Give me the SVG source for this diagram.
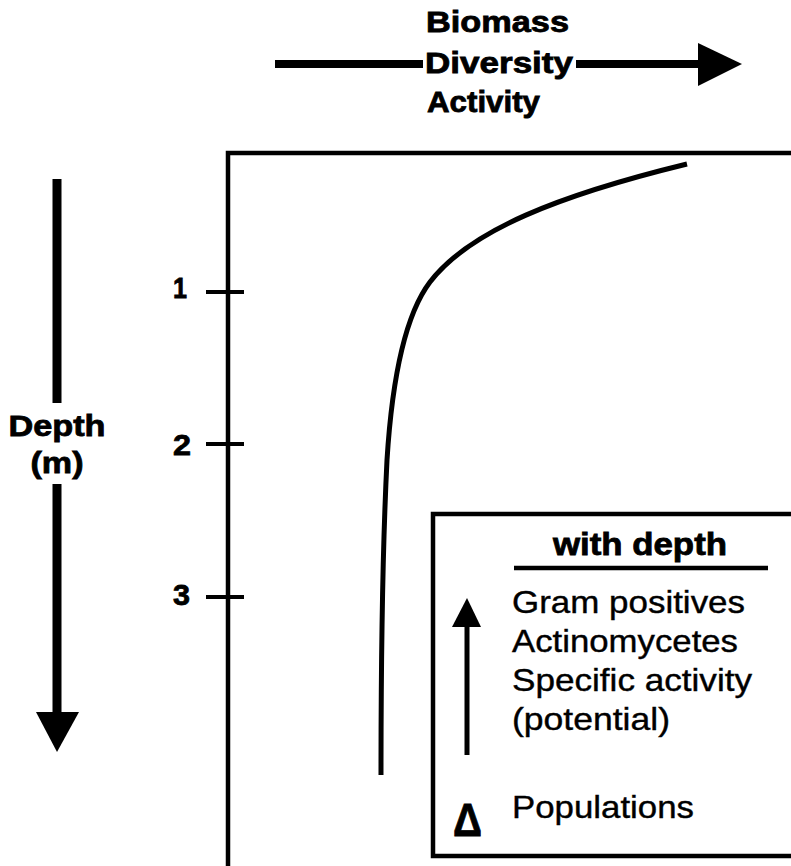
<svg xmlns="http://www.w3.org/2000/svg" width="791" height="866" viewBox="0 0 791 866">
<style>
.t{font-family:"Liberation Sans",Arial,Helvetica,sans-serif;fill:#000;stroke:#000;stroke-width:0.4}
.b{font-weight:bold;stroke-width:0.8}
.ln{stroke:#000;fill:none}
</style>
<rect x="0" y="0" width="791" height="866" fill="#fff"/>
<g id="x-axis-arrow">
<line class="ln" x1="275" y1="64" x2="423" y2="64" stroke-width="8"/>
<line class="ln" x1="576" y1="64" x2="700" y2="64" stroke-width="8"/>
<polygon points="698,43 742,64 698,86" fill="#000"/>
<text class="t b" x="426" y="32" font-size="29" textLength="143" lengthAdjust="spacingAndGlyphs">Biomass</text>
<text class="t b" x="425" y="73" font-size="29" textLength="148" lengthAdjust="spacingAndGlyphs">Diversity</text>
<text class="t b" x="427" y="112" font-size="29" textLength="113" lengthAdjust="spacingAndGlyphs">Activity</text>
</g>
<g id="depth-arrow">
<line class="ln" x1="57" y1="179" x2="57" y2="403" stroke-width="9"/>
<line class="ln" x1="57" y1="484" x2="57" y2="714" stroke-width="9"/>
<polygon points="36,712 79,712 57,752" fill="#000"/>
<text class="t b" x="57" y="436" font-size="30" text-anchor="middle" textLength="97" lengthAdjust="spacingAndGlyphs">Depth</text>
<text class="t b" x="57" y="473" font-size="30" text-anchor="middle" textLength="53" lengthAdjust="spacingAndGlyphs">(m)</text>
</g>
<g id="plot-frame">
<path class="ln" d="M228,866 V153 H791" stroke-width="4.5"/>
<line class="ln" x1="206" y1="292" x2="244" y2="292" stroke-width="4"/>
<line class="ln" x1="206" y1="444" x2="244" y2="444" stroke-width="4"/>
<line class="ln" x1="206" y1="597" x2="244" y2="597" stroke-width="4"/>
<text class="t b" x="173" y="298" font-size="30" textLength="14" lengthAdjust="spacingAndGlyphs">1</text>
<text class="t b" x="173" y="455" font-size="30" textLength="18" lengthAdjust="spacingAndGlyphs">2</text>
<text class="t b" x="173" y="605" font-size="30" textLength="17" lengthAdjust="spacingAndGlyphs">3</text>
</g>
<g id="curve">
<path class="ln" d="M687,164 C560,195 470,230 430,282 C405,315 392,380 387,460 C383,540 381,650 381,775" stroke-width="5"/>
</g>
<g id="legend">
<path class="ln" d="M791,514 H433 V856 H791" stroke-width="4.5"/>
<text class="t b" x="553" y="555" font-size="31" textLength="174" lengthAdjust="spacingAndGlyphs">with depth</text>
<line class="ln" x1="514" y1="568" x2="768" y2="568" stroke-width="4.5"/>
<line class="ln" x1="467" y1="624" x2="467" y2="755" stroke-width="5"/>
<polygon points="452,627 481,627 467,598" fill="#000"/>
<text class="t" x="512" y="613" font-size="32" textLength="233" lengthAdjust="spacingAndGlyphs">Gram positives</text>
<text class="t" x="512" y="652" font-size="32" textLength="226" lengthAdjust="spacingAndGlyphs">Actinomycetes</text>
<text class="t" x="512" y="691" font-size="32" textLength="240" lengthAdjust="spacingAndGlyphs">Specific activity</text>
<text class="t" x="512" y="730" font-size="32" textLength="158" lengthAdjust="spacingAndGlyphs">(potential)</text>
<text class="t b" x="453" y="836" font-size="46" textLength="29" lengthAdjust="spacingAndGlyphs">Δ</text>
<text class="t" x="512" y="818" font-size="32" textLength="182" lengthAdjust="spacingAndGlyphs">Populations</text>
</g>
</svg>
